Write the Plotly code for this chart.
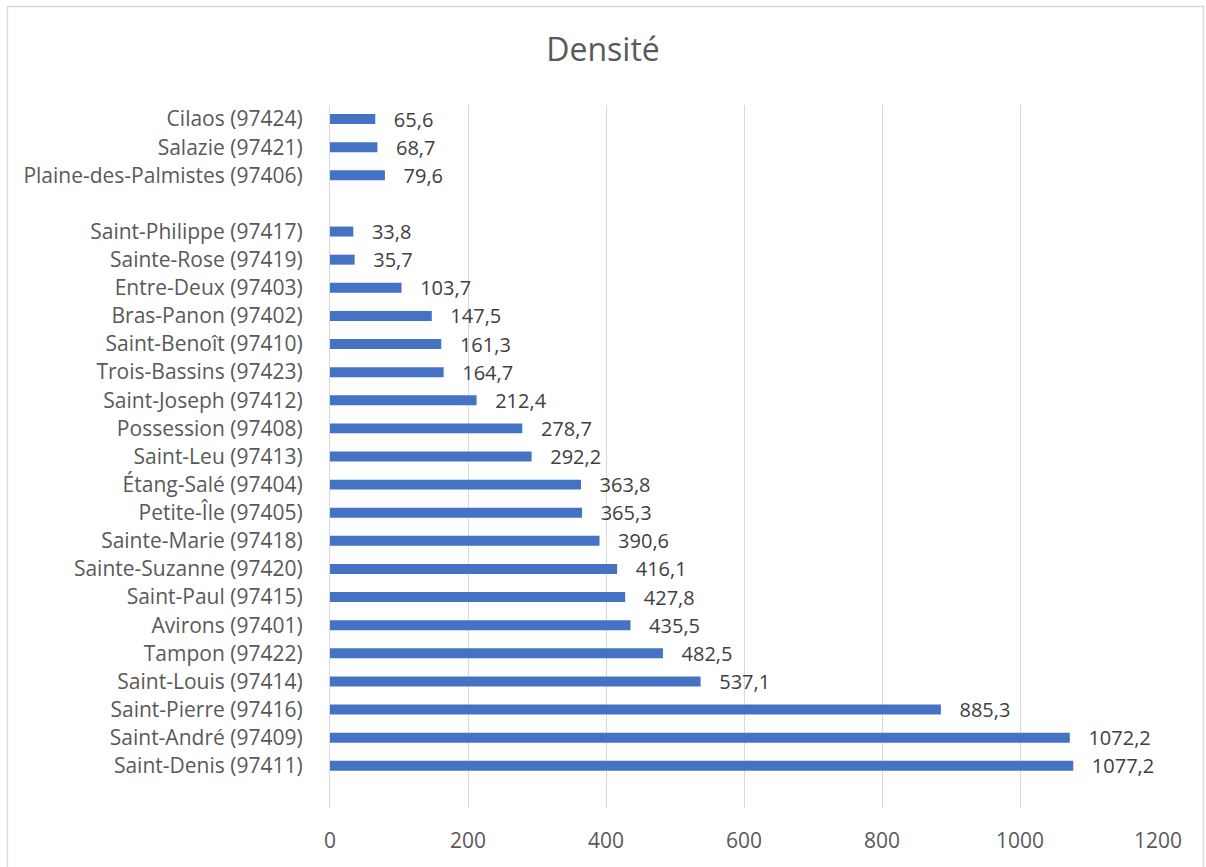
import plotly.graph_objects as go

# Categories from bottom to top (blank entries are the empty slots of the original chart)
communes = [
    " ",
    "Saint-Denis (97411)",
    "Saint-André (97409)",
    "Saint-Pierre (97416)",
    "Saint-Louis (97414)",
    "Tampon (97422)",
    "Avirons (97401)",
    "Saint-Paul (97415)",
    "Sainte-Suzanne (97420)",
    "Sainte-Marie (97418)",
    "Petite-Île (97405)",
    "Étang-Salé (97404)",
    "Saint-Leu (97413)",
    "Possession (97408)",
    "Saint-Joseph (97412)",
    "Trois-Bassins (97423)",
    "Saint-Benoît (97410)",
    "Bras-Panon (97402)",
    "Entre-Deux (97403)",
    "Sainte-Rose (97419)",
    "Saint-Philippe (97417)",
    "  ",
    "Plaine-des-Palmistes (97406)",
    "Salazie (97421)",
    "Cilaos (97424)",
]
densite = [
    None,
    1077.2, 1072.2, 885.3, 537.1, 482.5, 435.5, 427.8, 416.1, 390.6, 365.3,
    363.8, 292.2, 278.7, 212.4, 164.7, 161.3, 147.5, 103.7, 35.7, 33.8,
    None,
    79.6, 68.7, 65.6,
]
x_ticks = [0, 200, 400, 600, 800, 1000, 1200]

labels = ["" if v is None else "\u00a0\u00a0\u00a0" + f"{v:.1f}".replace(".", ",") for v in densite]

font_family = "Open Sans"

fig = go.Figure(
    go.Bar(
        y=communes,
        x=densite,
        orientation="h",
        marker=dict(color="#4472C4", line=dict(width=0)),
        width=0.355,
        text=labels,
        textposition="outside",
        constraintext="none",
        textfont=dict(family=font_family, size=20, color="#404040"),
        cliponaxis=False,
        hoverinfo="x+y",
    )
)

fig.update_layout(
    width=1206,
    height=867,
    margin=dict(l=330, r=48, t=105, b=59),
    paper_bgcolor="white",
    plot_bgcolor="white",
    showlegend=False,
    uniformtext=dict(mode=False),
    title=dict(
        text="Densité",
        x=0.5,
        xanchor="center",
        y=1 - 50 / 867,
        yanchor="middle",
        font=dict(family=font_family, size=32, color="#595959"),
    ),
    xaxis=dict(
        range=[0, 1200],
        tickvals=x_ticks,
        showgrid=True,
        gridcolor="#d9d9d9",
        gridwidth=1.3,
        zeroline=False,
        showline=False,
        ticks="",
        ticklabelstandoff=18,
        tickfont=dict(family=font_family, size=21, color="#595959"),
    ),
    yaxis=dict(
        type="category",
        categoryorder="array",
        categoryarray=communes,
        range=[-0.5, len(communes) - 0.5],
        showgrid=False,
        zeroline=False,
        showline=True,
        linecolor="#d9d9d9",
        linewidth=1.3,
        ticks="",
        ticklabelstandoff=22,
        tickfont=dict(family=font_family, size=21, color="#595959"),
    ),
    shapes=[
        dict(
            type="rect",
            xref="paper",
            yref="paper",
            x0=(7.5 - 330) / 828,
            x1=(1203.5 - 330) / 828,
            y0=(808 - 870) / 703,
            y1=(808 - 6.5) / 703,
            line=dict(color="#d9d9d9", width=1.3),
            fillcolor="rgba(0,0,0,0)",
            layer="below",
        )
    ],
)

fig.write_html("out.html")
